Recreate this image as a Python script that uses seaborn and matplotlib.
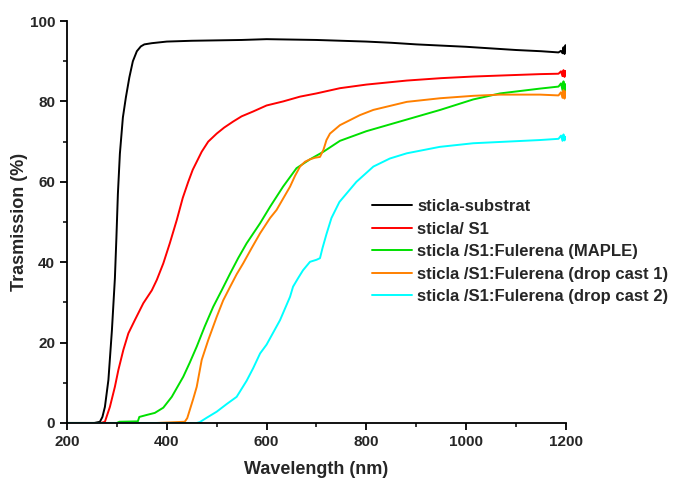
import matplotlib
matplotlib.use("Agg")
import matplotlib.pyplot as plt
import seaborn as sns
import pandas as pd
from matplotlib.ticker import MultipleLocator

# ---- data ----
labels = ["sticla-substrat", "sticla/ S1", "sticla /S1:Fulerena (MAPLE)",
          "sticla /S1:Fulerena (drop cast 1)", "sticla /S1:Fulerena (drop cast 2)"]
colors = ["#000000", "#ff0000", "#00e000", "#ff8000", "#00ffff"]

wl_substrat = [200, 255, 266, 271, 276, 283, 290, 296, 299, 302, 306, 312, 318, 325, 332, 340, 348,
               355, 370, 400, 450, 500, 550, 600, 650, 700, 750, 800, 850, 900, 950, 1000, 1050, 1100,
               1150, 1185, 1190, 1193, 1195, 1197, 1199, 1200]
t_substrat = [0, 0, 0.3, 1.5, 4, 10.7, 23, 36, 46, 57, 67, 76, 81, 86, 90, 92.5, 93.7,
              94.2, 94.5, 94.9, 95.1, 95.2, 95.3, 95.5, 95.4, 95.3, 95.1, 94.9, 94.6, 94.2, 93.9, 93.6, 93.2, 92.8,
              92.5, 92.2, 92.6, 92.0, 93.5, 91.8, 94.0, 92.5]

wl_s1 = [200, 268, 276, 286, 296, 303, 313, 323, 336, 353, 370, 380, 393, 406, 420, 432,
         443, 452, 460, 470, 483, 500, 515, 533, 550, 573, 600, 633, 667, 700, 747, 800, 881, 950,
         1014, 1080, 1148, 1185, 1190, 1193, 1195, 1197, 1199, 1200]
t_s1 = [0, 0, 0.3, 4, 9, 13.2, 18.2, 22.3, 25.6, 29.8, 33, 35.6, 39.7, 44.7, 50.5, 56,
        60, 63, 65, 67.5, 70, 72, 73.5, 75, 76.3, 77.5, 79, 80, 81.2, 82, 83.3, 84.2, 85.2, 85.8,
        86.2, 86.5, 86.8, 86.9, 87.5, 86.3, 87.8, 86.1, 87.6, 86.7]

wl_maple = [200, 300, 305, 342, 345, 360, 376, 393, 410, 433, 446, 460, 476, 493, 510, 527, 543, 560,
            587, 607, 633, 660, 687, 714, 747, 800, 867, 948, 1014, 1068, 1148, 1185, 1190, 1193, 1195,
            1197, 1199, 1200]
t_maple = [0, 0, 0.3, 0.4, 1.5, 2.0, 2.5, 3.8, 6.5, 11.5, 15, 19, 24, 28.9, 33, 37.2, 41, 44.7,
           49.7, 53.8, 58.8, 63.4, 65.6, 67.5, 70.2, 72.6, 75, 77.9, 80.5, 82, 83.2, 83.7, 84.5, 82.8, 85.0,
           82.5, 84.3, 83.4]

wl_drop1 = [200, 380, 436, 441, 446, 453, 460, 470, 483, 500, 513, 527, 540, 553, 570, 587, 607,
            620, 633, 647, 657, 667, 677, 687, 697, 707, 714, 720, 727, 747, 787, 814, 881, 948, 1014, 1068,
            1148, 1185, 1190, 1193, 1195, 1197, 1199, 1200]
t_drop1 = [0, 0, 0.3, 1.2, 3.2, 6, 9, 15.7, 20.6, 26.4, 30.5, 33.9, 37, 39.7, 43.5, 47.2, 51,
           53, 55.8, 58.8, 61.5, 63.8, 65, 65.6, 66, 66.2, 68, 70.4, 72, 74.1, 76.6, 77.9, 79.9, 80.8, 81.4, 81.7,
           81.7, 81.5, 82.3, 80.9, 82.8, 80.7, 82.5, 81.6]

wl_drop2 = [200, 460, 466, 480, 500, 520, 540, 560, 573, 587, 600, 627, 647, 653, 663, 673, 687, 700, 707,
            712, 720, 730, 746, 780, 814, 847, 881, 947, 1014, 1081, 1148, 1185, 1190, 1193, 1195, 1197,
            1199, 1200]
t_drop2 = [0, 0, 0.2, 1.3, 2.8, 4.7, 6.5, 10.5, 13.6, 17.3, 19.5, 25.6, 31.4, 33.9, 36, 38, 40.1, 40.6, 41,
           43.5, 47, 51, 55, 60, 63.8, 65.8, 67.1, 68.7, 69.6, 70, 70.4, 70.7, 71.5, 70.2, 71.8, 70.3,
           71.2, 70.8]

series_wl = [wl_substrat, wl_s1, wl_maple, wl_drop1, wl_drop2]
series_t = [t_substrat, t_s1, t_maple, t_drop1, t_drop2]

frames = []
for lab, w, t in zip(labels, series_wl, series_t):
    frames.append(pd.DataFrame({"wl": w, "T": t, "series": lab}))
df = pd.concat(frames, ignore_index=True)

sns.set_style("ticks")
plt.rcParams["font.family"] = ["Liberation Sans", "DejaVu Sans"]
plt.rcParams["font.weight"] = "bold"

fig = plt.figure(figsize=(6.78, 4.79), dpi=100)
ax = fig.add_axes([0.0988, 0.117, 0.736, 0.839])

sns.lineplot(data=df, x="wl", y="T", hue="series", hue_order=labels,
             palette=dict(zip(labels, colors)), estimator=None, sort=False,
             linewidth=1.4, ax=ax)

ax.set_xlim(200, 1200)
ax.set_ylim(0, 100)
ax.xaxis.set_major_locator(MultipleLocator(200))
ax.xaxis.set_minor_locator(MultipleLocator(100))
ax.yaxis.set_major_locator(MultipleLocator(20))
ax.yaxis.set_minor_locator(MultipleLocator(10))
ax.tick_params(which="major", direction="out", length=5, width=1.3, labelsize=11, color="black")
ax.tick_params(which="minor", direction="out", length=3, width=1.1, color="black")
for lbl in ax.get_xticklabels() + ax.get_yticklabels():
    lbl.set_fontweight("bold")
for s in ["top", "right"]:
    ax.spines[s].set_visible(False)
for s in ["left", "bottom"]:
    ax.spines[s].set_linewidth(1.3)
    ax.spines[s].set_color("black")

ax.set_xlabel("Wavelength (nm)", fontsize=13, fontweight="bold", labelpad=9)
ax.set_ylabel("Trasmission (%)", fontsize=13, fontweight="bold", labelpad=1)

leg = ax.legend(loc="upper left", bbox_to_anchor=(372 / 678, 1 - 199 / 479),
                bbox_transform=fig.transFigure, frameon=False, borderpad=0,
                borderaxespad=0, handlelength=2.4, handletextpad=0.3, labelspacing=0.45,
                prop={"size": 12, "weight": "bold"})
for line in leg.get_lines():
    line.set_linewidth(1.4)

fig.savefig("out.png", dpi=100)
